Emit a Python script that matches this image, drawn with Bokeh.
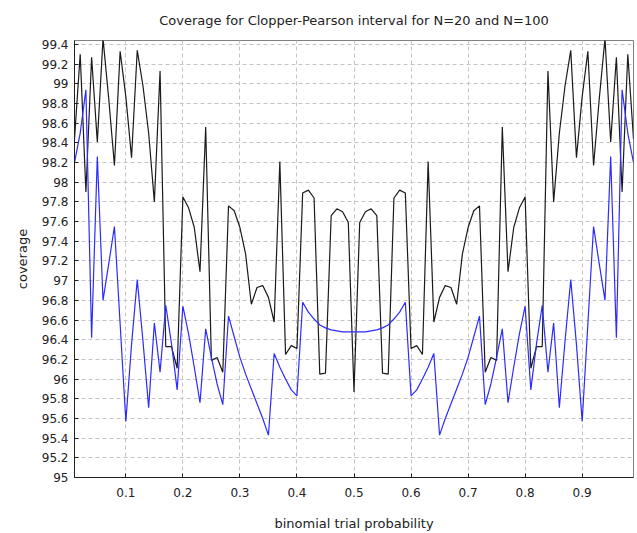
from bokeh.plotting import figure
from bokeh.models import FixedTicker, CustomJSTickFormatter, Range1d
from bokeh.embed import file_html
from bokeh.resources import INLINE

# binomial trial probability
p = [0.01, 0.02, 0.03, 0.04, 0.05, 0.06, 0.07, 0.08, 0.09, 0.10,
     0.11, 0.12, 0.13, 0.14, 0.15, 0.16, 0.17, 0.18, 0.19, 0.20,
     0.21, 0.22, 0.23, 0.24, 0.25, 0.26, 0.27, 0.28, 0.29, 0.30,
     0.31, 0.32, 0.33, 0.34, 0.35, 0.36, 0.37, 0.38, 0.39, 0.40,
     0.41, 0.42, 0.43, 0.44, 0.45, 0.46, 0.47, 0.48, 0.49, 0.50,
     0.51, 0.52, 0.53, 0.54, 0.55, 0.56, 0.57, 0.58, 0.59, 0.60,
     0.61, 0.62, 0.63, 0.64, 0.65, 0.66, 0.67, 0.68, 0.69, 0.70,
     0.71, 0.72, 0.73, 0.74, 0.75, 0.76, 0.77, 0.78, 0.79, 0.80,
     0.81, 0.82, 0.83, 0.84, 0.85, 0.86, 0.87, 0.88, 0.89, 0.90,
     0.91, 0.92, 0.93, 0.94, 0.95, 0.96, 0.97, 0.98, 0.99]

# coverage, N=100 (black)
cov_n100 = [98.44, 99.30, 97.90, 99.27, 98.41, 99.46, 98.85, 98.17, 99.33, 98.87,
            98.25, 99.34, 98.98, 98.50, 97.80, 99.13, 96.33, 96.33, 96.11, 97.85,
            97.74, 97.54, 97.09, 98.56, 96.19, 96.22, 96.07, 97.76, 97.71, 97.54,
            97.27, 96.76, 96.93, 96.95, 96.83, 96.58, 98.21, 96.25, 96.34, 96.31,
            97.89, 97.92, 97.84, 96.05, 96.06, 97.66, 97.73, 97.70, 97.59, 95.87,
            97.59, 97.70, 97.73, 97.66, 96.06, 96.05, 97.84, 97.92, 97.89, 96.31,
            96.34, 96.25, 98.21, 96.58, 96.83, 96.95, 96.93, 96.76, 97.27, 97.54,
            97.71, 97.76, 96.07, 96.22, 96.19, 98.56, 97.09, 97.54, 97.74, 97.85,
            96.11, 96.33, 96.33, 99.13, 97.80, 98.50, 98.98, 99.34, 98.25, 98.87,
            99.33, 98.17, 98.85, 99.46, 98.41, 99.27, 97.90, 99.30, 98.44]

# coverage, N=20 (blue)
cov_n20 = [98.20, 98.50, 98.94, 96.42, 98.26, 96.80, 97.17, 97.55, 96.56, 95.57,
           96.35, 97.01, 96.39, 95.71, 96.57, 96.07, 96.75, 96.36, 95.89, 96.74,
           96.46, 96.12, 95.76, 96.51, 96.22, 95.95, 95.74, 96.64, 96.43, 96.22,
           96.05, 95.90, 95.75, 95.60, 95.43, 96.26, 96.12, 96.00, 95.89, 95.83,
           96.78, 96.68, 96.61, 96.55, 96.52, 96.50, 96.49, 96.48, 96.48, 96.48,
           96.48, 96.48, 96.49, 96.50, 96.52, 96.55, 96.61, 96.68, 96.78, 95.83,
           95.89, 96.00, 96.12, 96.26, 95.43, 95.60, 95.75, 95.90, 96.05, 96.22,
           96.43, 96.64, 95.74, 95.95, 96.22, 96.51, 95.76, 96.12, 96.46, 96.74,
           95.89, 96.36, 96.75, 96.07, 96.57, 95.71, 96.39, 97.01, 96.35, 95.57,
           96.56, 97.55, 97.17, 96.80, 98.26, 96.42, 98.94, 98.50, 98.20]

x_ticks = [0.1, 0.2, 0.3, 0.4, 0.5, 0.6, 0.7, 0.8, 0.9]
y_ticks = [95.0, 95.2, 95.4, 95.6, 95.8, 96.0, 96.2, 96.4, 96.6, 96.8, 97.0,
           97.2, 97.4, 97.6, 97.8, 98.0, 98.2, 98.4, 98.6, 98.8, 99.0, 99.2, 99.4]

FONT = "DejaVu Sans"

p_fig = figure(width=637, height=533, output_backend="svg", toolbar_location=None,
               x_range=Range1d(0.01, 0.99), y_range=Range1d(95.0, 99.44),
               title="Coverage for Clopper-Pearson interval for N=20 and N=100",
               min_border_left=74, min_border_right=4, min_border_top=40,
               min_border_bottom=54)

p_fig.title.align = "center"
p_fig.title.vertical_align = "top"
p_fig.title.text_font = FONT
p_fig.title.text_font_size = "13px"
p_fig.title.text_font_style = "normal"
p_fig.title.text_color = "#222222"
p_fig.title.standoff = 21

p_fig.background_fill_color = "white"
p_fig.border_fill_color = "white"
p_fig.outline_line_color = "#808080"
p_fig.outline_line_width = 1

p_fig.line(p, cov_n100, line_color="#1a1a1a", line_width=1.2)
p_fig.line(p, cov_n20, line_color="#2b2bff", line_width=1.2)

for ax in (p_fig.xaxis[0], p_fig.yaxis[0]):
    ax.axis_line_color = "#202020"
    ax.axis_line_width = 1
    ax.major_tick_in = 4
    ax.major_tick_out = 0
    ax.minor_tick_in = 0
    ax.minor_tick_out = 0
    ax.major_tick_line_color = "#202020"
    ax.major_label_text_font = FONT
    ax.major_label_text_font_size = "12px"
    ax.major_label_text_color = "#222222"
    ax.axis_label_text_font = FONT
    ax.axis_label_text_font_size = "13px"
    ax.axis_label_text_font_style = "normal"
    ax.axis_label_text_color = "#222222"

p_fig.xaxis[0].ticker = FixedTicker(ticks=x_ticks)
p_fig.yaxis[0].ticker = FixedTicker(ticks=y_ticks)
p_fig.yaxis[0].formatter = CustomJSTickFormatter(
    code="return (Math.round(tick * 10) / 10).toString();")
p_fig.xaxis[0].formatter = CustomJSTickFormatter(
    code="return (Math.round(tick * 10) / 10).toString();")
p_fig.xaxis[0].axis_label = "binomial trial probability"
p_fig.yaxis[0].axis_label = "coverage"
p_fig.xaxis[0].major_label_standoff = 10
p_fig.yaxis[0].major_label_standoff = 6
p_fig.xaxis[0].axis_label_standoff = 16
p_fig.yaxis[0].axis_label_standoff = 9

for g in (p_fig.xgrid[0], p_fig.ygrid[0]):
    g.grid_line_color = "#c4c4c4"
    g.grid_line_dash = "4 3"
    g.grid_line_width = 1

open("out.html", "w").write(file_html(p_fig, INLINE))
